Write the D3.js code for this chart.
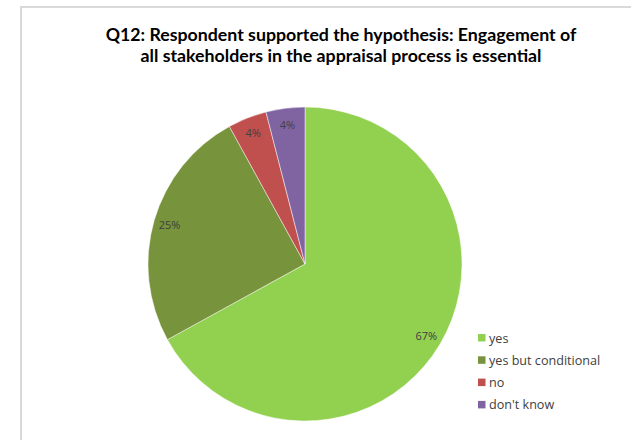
<!DOCTYPE html>
<html>
<head>
<meta charset="utf-8">
<script src="https://cdn.jsdelivr.net/npm/d3@7"></script>
<style>
  html, body { margin: 0; padding: 0; background: #fff; }
  svg { display: block; }
  text { font-family: Lato, "Open Sans", "Liberation Sans", sans-serif; }
  .small { font-family: "Open Sans", Lato, "Liberation Sans", sans-serif; }
</style>
</head>
<body>
<svg id="chart" width="631" height="440"></svg>
<script>
// Survey answers for Q12 (share of respondents, %)
const categories = ["yes", "yes but conditional", "no", "don't know"];
const values = [67, 25, 4, 4];
const colors = ["#92D050", "#77933C", "#C0504D", "#8064A2"];
const titleLines = [
  "Q12: Respondent supported the hypothesis: Engagement of",
  "all stakeholders in the appraisal process is essential"
];

const svg = d3.select("#chart");
const W = 631, H = 440;

// chart frame
svg.append("rect")
  .attr("x", 21).attr("y", 7)
  .attr("width", W + 20).attr("height", H + 20)
  .attr("fill", "#fff")
  .attr("stroke", "#d9d9d9")
  .attr("stroke-width", 2);

// title, fitted to its line width
const title = svg.append("g");
const titleTexts = titleLines.map((line, i) =>
  title.append("text")
    .attr("x", 341)
    .attr("y", 41 + i * 21)
    .attr("text-anchor", "middle")
    .attr("font-weight", "bold")
    .attr("font-size", 17)
    .attr("fill", "#000")
    .text(line));
const fs = 17 * 471 / titleTexts[0].node().getComputedTextLength();
title.selectAll("text").attr("font-size", fs);

// pie
const cx = 305, cy = 264, r = 157;
const pie = d3.pie().sort(null).value(d => d.v);
const data = pie(categories.map((c, i) => ({ c, v: values[i], col: colors[i] })));
const arc = d3.arc().innerRadius(0).outerRadius(r);
const labelArc = d3.arc().innerRadius(141).outerRadius(141);

const g = svg.append("g").attr("transform", `translate(${cx},${cy})`);
g.selectAll("path.slice")
  .data(data)
  .join("path")
  .attr("class", "slice")
  .attr("d", arc)
  .attr("fill", d => d.data.col)
  .attr("stroke", "#ffffff")
  .attr("stroke-opacity", 0.6)
  .attr("stroke-width", 0.8);

g.selectAll("text.lbl")
  .data(data)
  .join("text")
  .attr("class", "lbl small")
  .attr("transform", d => `translate(${labelArc.centroid(d)})`)
  .attr("text-anchor", "middle")
  .attr("dominant-baseline", "central")
  .attr("font-size", 11)
  .attr("fill", "#404040")
  .text(d => d.data.v + "%");

// legend
const legend = svg.append("g").attr("transform", "translate(478,338)");
const rowStep = 22.3;
const items = legend.selectAll("g")
  .data(categories)
  .join("g")
  .attr("transform", (d, i) => `translate(0,${i * rowStep})`);
items.append("rect")
  .attr("x", 0).attr("y", -4)
  .attr("width", 7.5).attr("height", 7.5)
  .attr("fill", (d, i) => colors[i]);
items.append("text")
  .attr("class", "small")
  .attr("x", 11)
  .attr("y", 0)
  .attr("dominant-baseline", "central")
  .attr("font-size", 12.6)
  .attr("fill", "#404040")
  .text(d => d);
</script>
</body>
</html>
